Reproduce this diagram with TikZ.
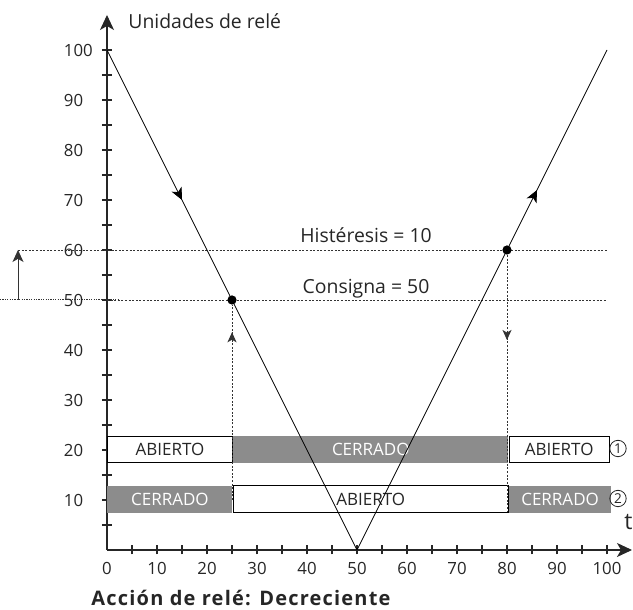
\documentclass[tikz,border=0pt]{standalone}
\usepackage{fontspec}
\setmainfont{Open Sans}
\usetikzlibrary{arrows.meta,decorations.markings}

\begin{document}
\begin{tikzpicture}[x=2.5pt, y=2.5pt,
  every node/.style={font=\fontsize{8.4}{10}\selectfont, text=black!85, inner sep=1pt},
  rotulo/.style={font=\fontsize{9.7}{11}\selectfont, anchor=base},
  ejes/.style={black!85, line width=0.55pt},
  guia/.style={black!80, line width=0.4pt, dash pattern=on 1pt off 0.8pt},
  curva/.style={black, line width=0.4pt},
  gris/.style={fill=black!45, text=white, minimum height=13.4pt, anchor=west, inner sep=0pt, font=\fontsize{8.5}{10}\selectfont},
  blanco/.style={fill=white, draw=black, line width=0.45pt, minimum height=13.4pt, anchor=west, inner sep=0pt, font=\fontsize{8.5}{10}\selectfont},
  num/.style={circle, draw=black!85, line width=0.4pt, minimum size=8.2pt, inner sep=0pt, font=\fontsize{6.8}{7}\selectfont},
  dot/.style={circle, fill=black, minimum size=4.6pt, inner sep=0pt},
  flecha/.style={-{Stealth[length=6pt, width=5.5pt, inset=1.6pt]}}]
  \useasboundingbox (-21.4,-12) rectangle (105.2,110);

  % ejes
  \coordinate (o) at (0,0);
  \coordinate (ytop) at (0,107);
  \coordinate (xend) at (105,0);
  \draw[ejes, -{Stealth[length=7.5pt, width=7pt, inset=2pt]}] (o) -- (ytop);
  \draw[ejes, -{Stealth[length=7.5pt, width=7pt, inset=2pt]}] (o) -- (xend);
  \foreach \v in {5,10,...,100} {
    \draw[ejes] (-1,\v) -- (1,\v);
    \draw[ejes] (\v,-0.9) -- (\v,0.9);
  }
  \foreach \v in {10,20,...,100}
    \node[anchor=west, inner sep=0pt] (y\v) at (-8.7,\v) {\v};
  \foreach \v in {0,10,...,100}
    \node[inner sep=0pt] (x\v) at (\v,-3.7) {\v};
  \node[rotulo, anchor=base west, inner sep=0pt] (ylab) at (4.2,104.2) {Unidades de relé};

  % consigna e histeresis
  \coordinate (c0) at (0,50);
  \coordinate (c1) at (100,50);
  \coordinate (h0) at (-17.8,60);
  \coordinate (h1) at (100,60);
  \coordinate (l0) at (-21.4,50);
  \coordinate (l1) at (2.2,50);
  \coordinate (a0) at (-17.8,50);
  \draw[guia] (c0) -- (c1);
  \draw[guia] (h0) -- (h1);
  \draw[black!80, line width=0.5pt, dash pattern=on 0.6pt off 0.6pt] (l0) -- (l1);
  \draw[black!80, line width=0.45pt, flecha] (a0) -- (h0);
  \node[rotulo] (hist) at (51.8,61.4) {Histéresis = 10};
  \node[rotulo] (cons) at (51.8,51.2) {Consigna = 50};

  % estados del rele
  \node[blanco, minimum width=62.5pt] (b1) at (0,20.1) {ABIERTO};
  \node[gris, minimum width=137.5pt] (b2) at (b1.east) {CERRADO};
  \node[blanco, minimum width=50pt] (b3) at (b2.east) {ABIERTO};
  \node[gris, minimum width=62.5pt] (d1) at (0,10.15) {CERRADO};
  \node[blanco, minimum width=137.5pt] (d2) at (d1.east) {ABIERTO};
  \node[gris, minimum width=51pt] (d3) at (d2.east) {CERRADO};
  \node[num] (n1) at (102.2,20.3) {1};
  \node[num] (n2) at (102.2,10.3) {2};

  % puntos de conmutacion
  \node[dot] (p0) at (25,50) {};
  \node[dot] (p1) at (80,60) {};
  \coordinate (q0) at (25,10);
  \coordinate (q1) at (80,7.5);
  \draw[guia, postaction={decorate}, decoration={markings,
    mark=at position 0.86 with {\arrow[solid]{Stealth[length=5pt, width=4.5pt, inset=1.3pt]}}}] (q0) -- (p0);
  \draw[guia, postaction={decorate}, decoration={markings,
    mark=at position 0.33 with {\arrow[solid]{Stealth[length=5pt, width=4.5pt, inset=1.3pt]}}}] (p1) -- (q1);

  % curva
  \coordinate (v0) at (0,100);
  \coordinate (v1) at (50,0);
  \coordinate (v2) at (100,100);
  \draw[curva, postaction={decorate}, decoration={markings,
    mark=at position 0.3 with {\arrow{Stealth[length=6pt, width=5.5pt, inset=1.6pt]}}}] (v0) -- (v1);
  \draw[curva, postaction={decorate}, decoration={markings,
    mark=at position 0.72 with {\arrow{Stealth[length=6pt, width=5.5pt, inset=1.6pt]}}}] (v1) -- (v2);

  \node[anchor=base, inner sep=0pt, font=\fontsize{11.5}{13}\selectfont] (t) at (104.3,4) {t};
  \node[anchor=base, inner sep=0pt, font=\bfseries\fontsize{10}{12}\selectfont\addfontfeatures{LetterSpace=6}] (tit) at (26.8,-11.2) {Acción de relé: Decreciente};
\end{tikzpicture}
\end{document}
